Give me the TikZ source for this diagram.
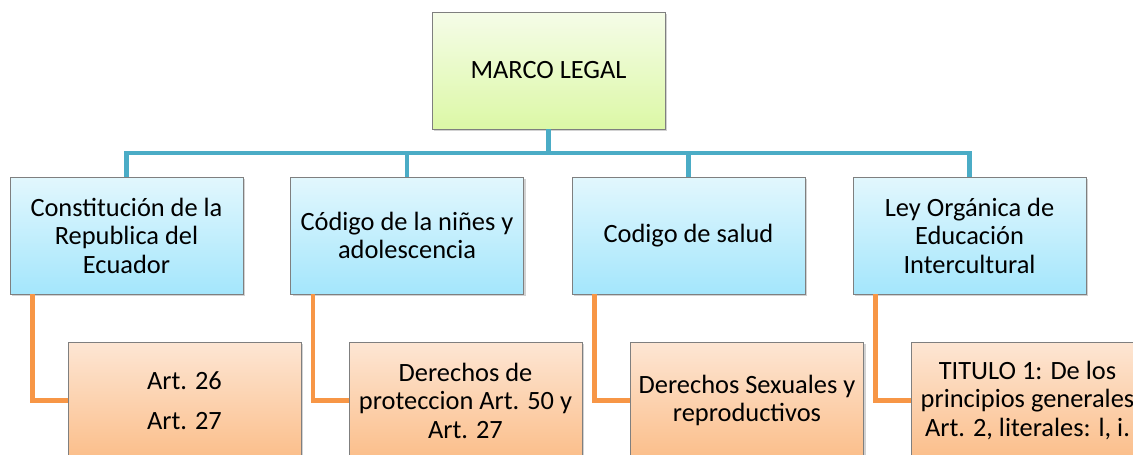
\documentclass[tikz,border=0pt]{standalone}
\usepackage{fontspec}
\setmainfont{Carlito}
\usetikzlibrary{shadows}
\definecolor{bline}{HTML}{4BACC6}
\definecolor{oline}{HTML}{F79646}
\definecolor{bordergray}{HTML}{7F7F7F}
\tikzset{
  box/.style={draw=bordergray, line width=0.8pt, minimum width=233pt, minimum height=117pt,
    align=center, inner sep=2pt, font=\fontsize{26.4}{28.5}\selectfont,
    drop shadow={opacity=0.35, shadow xshift=2pt, shadow yshift=-2pt}},
  topbox/.style={box, top color={rgb,255:red,245;green,252;blue,232}, bottom color={rgb,255:red,220;green,248;blue,166}},
  bluebox/.style={box, top color={rgb,255:red,226;green,247;blue,253}, bottom color={rgb,255:red,164;green,230;blue,252}},
  orangebox/.style={box, top color={rgb,255:red,253;green,230;blue,212}, bottom color={rgb,255:red,251;green,190;blue,138}},
  bconn/.style={draw=bline, line width=4.5pt},
  oconn/.style={draw=oline, line width=4.5pt},
}
\begin{document}
\begin{tikzpicture}[x=1pt,y=-1pt]
\path[use as bounding box, clip] (0,0) rectangle (1133,455);
\fill[white] (0,0) rectangle (1133,455);
\coordinate (bus) at (548.5,153);
\node[topbox] (top) at (548.5,70.5) {MARCO LEGAL};
\node[bluebox] (b1) at (126.5,235.5) {Constitución de la\\Republica del\\Ecuador};
\node[bluebox] (b2) at (407,235.5) {Código de la niñes y\\adolescencia};
\node[bluebox] (b3) at (688.5,235.5) {Codigo de salud};
\node[bluebox] (b4) at (969.5,235.5) {Ley Orgánica de\\Educación\\Intercultural};
\node[orangebox] (o1) at (184.5,400.5) {Art. 26\\[11.5pt]Art. 27};
\node[orangebox] (o2) at (465.5,400.5) {Derechos de\\proteccion Art. 50 y\\Art. 27};
\node[orangebox] (o3) at (747,400.5) {Derechos Sexuales y\\reproductivos};
\node[orangebox] (o4) at (1027.5,400.5) {TITULO 1: De los\\principios generales\\Art. 2, literales: l, i.};
\draw[bconn] (top.south) -- (bus);
\draw[bconn] (b1.north) -- (b1.north |- bus) -- (b4.north |- bus) -- (b4.north);
\draw[bconn] (b2.north |- bus) -- (b2.north);
\draw[bconn] (b3.north |- bus) -- (b3.north);
\draw[oconn] ([xshift=23pt]b1.south west) |- (o1.west);
\draw[oconn] ([xshift=23pt]b2.south west) |- (o2.west);
\draw[oconn] ([xshift=23pt]b3.south west) |- (o3.west);
\draw[oconn] ([xshift=23pt]b4.south west) |- (o4.west);
\end{tikzpicture}
\end{document}
